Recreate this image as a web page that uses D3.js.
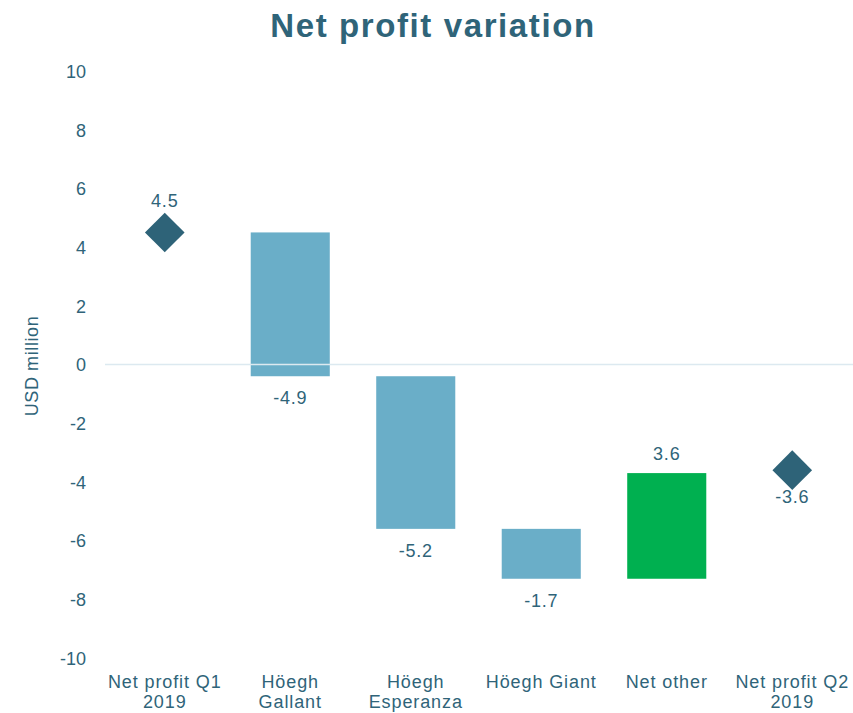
<!DOCTYPE html>
<html>
<head>
<meta charset="utf-8">
<script src="https://cdn.jsdelivr.net/npm/d3@7"></script>
<style>
  body { margin: 0; background: #fff; }
  svg { display: block; }
</style>
</head>
<body>
<svg id="chart" width="853" height="713"></svg>
<script>
const categories = [["Net profit Q1", "2019"], ["Höegh", "Gallant"], ["Höegh", "Esperanza"], ["Höegh Giant"], ["Net other"], ["Net profit Q2", "2019"]];
const kinds = ["total", "delta", "delta", "delta", "delta", "total"];
const values = [4.5, -4.9, -5.2, -1.7, 3.6, -3.6];
const labels = ["4.5", "-4.9", "-5.2", "-1.7", "3.6", "-3.6"];
const barColors = ["#2E6378", "#6AAEC8", "#6AAEC8", "#6AAEC8", "#00B050", "#2E6378"];
const yTicks = [10, 8, 6, 4, 2, 0, -2, -4, -6, -8, -10];

const textColor = "#2F6479";
const font = "Liberation Sans, Arial, sans-serif";
const svg = d3.select("#chart");

const y = d3.scaleLinear().domain([-10, 10]).range([658, 71]);
const x = d3.scaleBand().domain(d3.range(categories.length)).range([102, 855])
  .paddingInner(0.37).paddingOuter(0.185);

// compute waterfall
let running = 0;
const items = values.map((v, i) => {
  if (kinds[i] === "total") { running = v; return { i, v, start: v, end: v }; }
  const s = running; running = +(running + v).toFixed(2);
  return { i, v, start: s, end: running };
});

// title
svg.append("text").attr("x", 433).attr("y", 37).attr("text-anchor", "middle")
  .attr("font-family", font).attr("font-weight", "bold")
  .attr("font-size", 33).attr("letter-spacing", 1.6).attr("fill", textColor).text("Net profit variation");

// y axis ticks
const yAxis = d3.axisLeft(y).tickValues(yTicks).tickSize(0).tickPadding(0).tickFormat(d => String(d));
const ga = svg.append("g").attr("transform", "translate(86,0)").call(yAxis);
ga.select(".domain").remove();
ga.selectAll("text").attr("font-family", font)
  .attr("font-size", 18).attr("fill", textColor).attr("dy", "0.35em");

// y title
svg.append("text").attr("transform", "translate(38,366) rotate(-90)").attr("text-anchor", "middle")
  .attr("font-family", font).attr("font-size", 18).attr("letter-spacing", 0.6)
  .attr("fill", textColor).text("USD million");

// bars
svg.append("g").selectAll("rect").data(items.filter(d => kinds[d.i] === "delta")).join("rect")
  .attr("x", d => x(d.i)).attr("width", x.bandwidth())
  .attr("y", d => y(Math.max(d.start, d.end)))
  .attr("height", d => Math.abs(y(d.start) - y(d.end)))
  .attr("fill", d => barColors[d.i]);

// zero line
svg.append("line").attr("x1", 105).attr("x2", 853).attr("y1", y(0)).attr("y2", y(0))
  .attr("stroke", "#DCE9F0").attr("stroke-width", 1.5);

// diamonds
const diamond = d3.symbol().type(d3.symbolSquare).size(28 * 28);
svg.append("g").selectAll("path").data(items.filter(d => kinds[d.i] === "total")).join("path")
  .attr("d", diamond)
  .attr("transform", d => `translate(${x(d.i) + x.bandwidth() / 2},${y(d.v)}) rotate(45)`)
  .attr("fill", d => barColors[d.i]);

// data labels
svg.append("g").selectAll("text").data(items).join("text")
  .attr("x", d => x(d.i) + x.bandwidth() / 2)
  .attr("y", d => {
    if (kinds[d.i] === "total") return d.v >= 0 ? y(d.v) - 25 : y(d.v) + 33;
    return d.v >= 0 ? y(d.end) - 13 : y(d.end) + 28;
  })
  .attr("text-anchor", "middle")
  .attr("font-family", font).attr("font-size", 18).attr("letter-spacing", 0.8)
  .attr("fill", textColor).text(d => labels[d.i]);

// x labels
const gx = svg.append("g");
categories.forEach((lines, i) => {
  const t = gx.append("text").attr("x", x(i) + x.bandwidth() / 2).attr("y", 688)
    .attr("text-anchor", "middle")
    .attr("font-family", font).attr("letter-spacing", 0.9)
    .attr("font-size", 18).attr("fill", textColor);
  lines.forEach((l, k) => t.append("tspan").attr("x", x(i) + x.bandwidth() / 2).attr("dy", k ? 20 : 0).text(l));
});
</script>
</body>
</html>
